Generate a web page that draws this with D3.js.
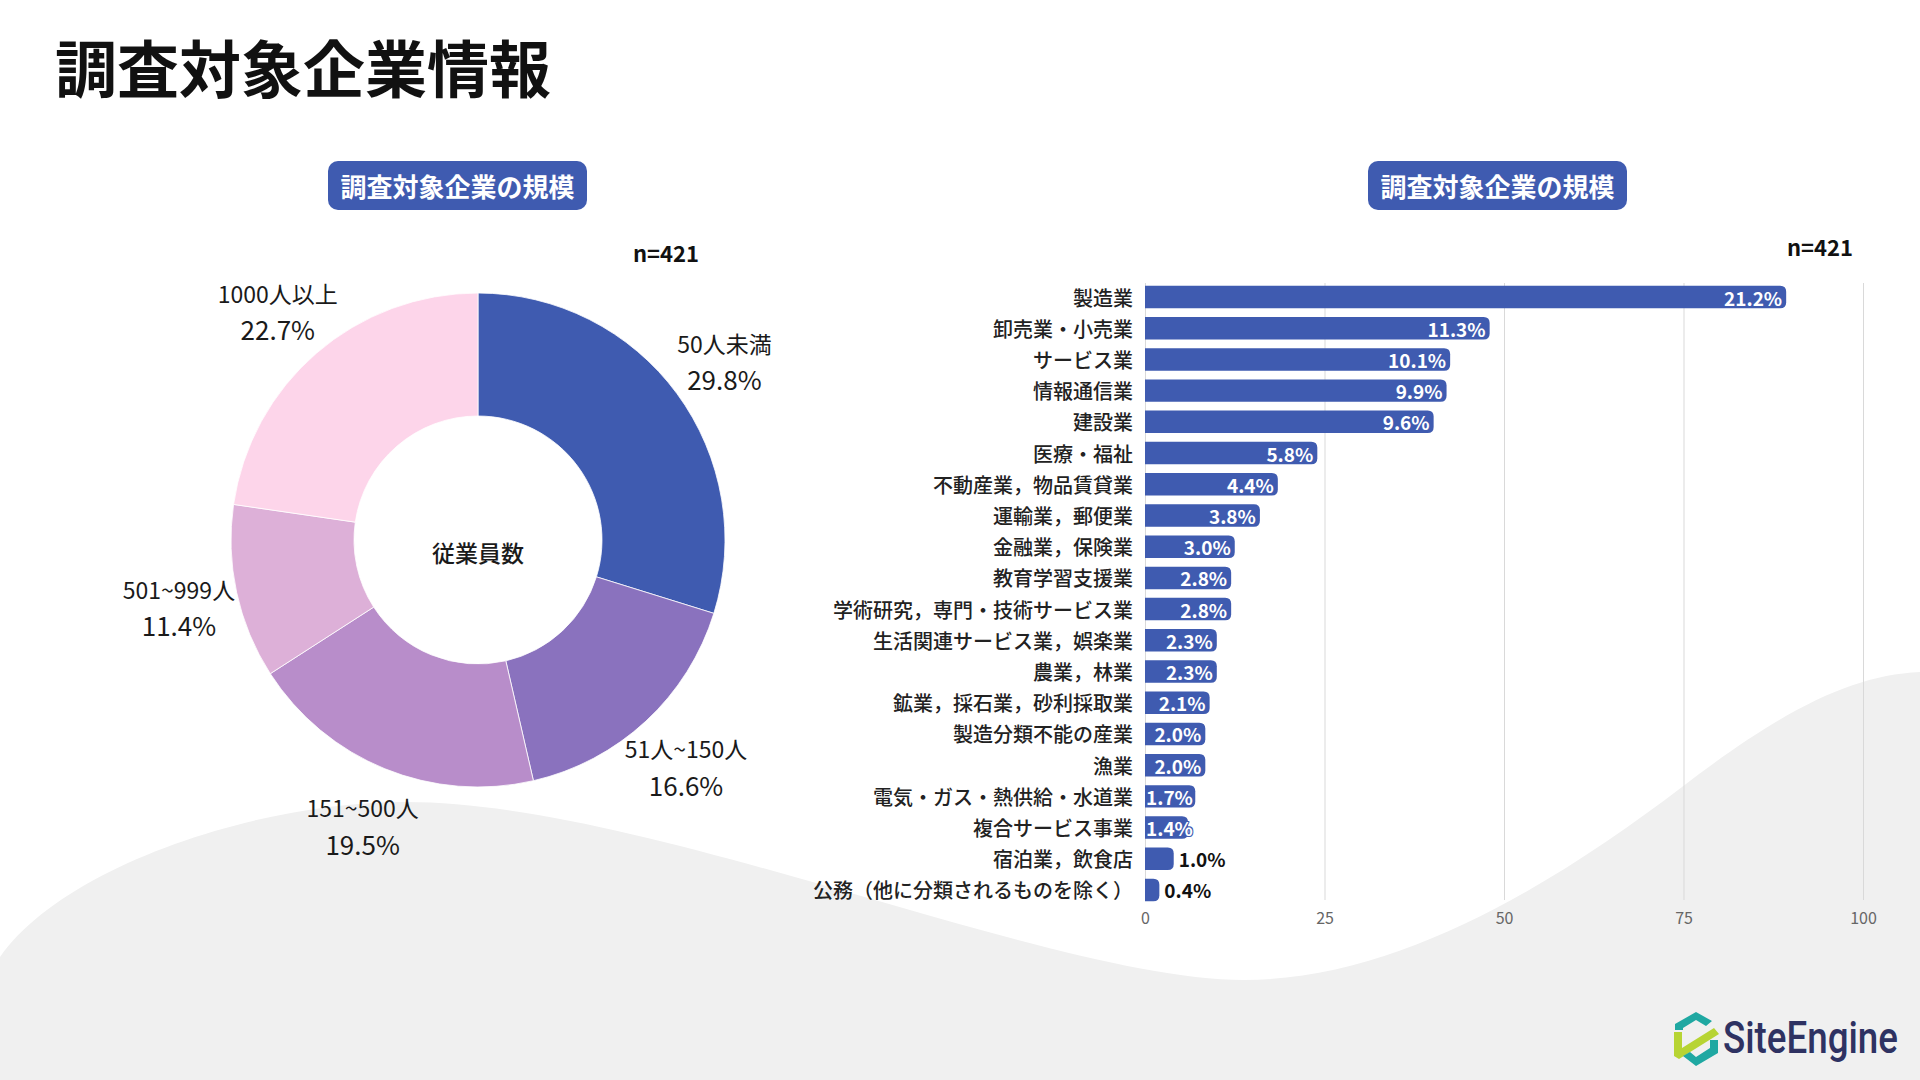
<!DOCTYPE html>
<html><head><meta charset="utf-8">
<script src="https://cdn.jsdelivr.net/npm/d3@7"></script>
<style>
html,body{margin:0;padding:0;background:#fff;}
svg{display:block;font-family:"Noto Sans CJK JP","Noto Sans",sans-serif;}
</style>
</head><body>
<svg id="c" width="1920" height="1080"></svg>
<script>
// ---------- data ----------
const pageTitle = "調査対象企業情報";
const panelTitles = ["調査対象企業の規模", "調査対象企業の規模"];
const sampleLabel = "n=421";

const sizeCategories = ["50人未満", "51人~150人", "151~500人", "501~999人", "1000人以上"];
const sizeShares = [29.8, 16.6, 19.5, 11.4, 22.7];
const sizeColors = ["#3F5BB0", "#8A72BE", "#B88DCA", "#DDB0D8", "#FDD5EA"];
const donutCenterLabel = "従業員数";

const industries = [
  "製造業", "卸売業・小売業", "サービス業", "情報通信業", "建設業", "医療・福祉",
  "不動産業，物品賃貸業", "運輸業，郵便業", "金融業，保険業", "教育学習支援業",
  "学術研究，専門・技術サービス業", "生活関連サービス業，娯楽業", "農業，林業",
  "鉱業，採石業，砂利採取業", "製造分類不能の産業", "漁業", "電気・ガス・熱供給・水道業",
  "複合サービス事業", "宿泊業，飲食店", "公務（他に分類されるものを除く）"
];
const industryCounts = [89.3, 48, 42.5, 42, 40.2, 24, 18.5, 16, 12.5, 12, 12, 10, 10, 9, 8.4, 8.4, 7, 6, 4, 2];
const industryLabels = ["21.2%", "11.3%", "10.1%", "9.9%", "9.6%", "5.8%", "4.4%", "3.8%", "3.0%", "2.8%",
  "2.8%", "2.3%", "2.3%", "2.1%", "2.0%", "2.0%", "1.7%", "1.4%", "1.0%", "0.4%"];
const xTicks = [0, 25, 50, 75, 100];
const logoText = "SiteEngine";

// ---------- drawing ----------
const svg = d3.select("#c");
const BLUE = "#3F5BB0";

// background wave
svg.append("path")
  .attr("d", "M0,957 C60,870 250,802 406,802 C650,802 1050,980 1244,980 C1400,980 1560,880 1682,787 C1780,712 1850,675 1920,672 L1920,1080 L0,1080 Z")
  .attr("fill", "#F0F0F0");

// title
svg.append("text").attr("x", 55).attr("y", 66).attr("dominant-baseline", "central")
  .attr("font-size", 62).attr("font-weight", 700).attr("fill", "#111").text(pageTitle);

// badges
const badgeCenters = [457.5, 1497.5];
panelTitles.forEach((t, i) => {
  const g = svg.append("g").attr("transform", `translate(${badgeCenters[i]},185.5)`);
  g.append("rect").attr("x", -129.5).attr("y", -24.5).attr("width", 259).attr("height", 49)
    .attr("rx", 10).attr("fill", BLUE);
  g.append("text").attr("text-anchor", "middle").attr("dominant-baseline", "central")
    .attr("font-size", 26).attr("font-weight", 700).attr("fill", "#fff").text(t);
});

// n labels
svg.append("text").attr("x", 666).attr("y", 252).attr("text-anchor", "middle").attr("dominant-baseline", "central")
  .attr("font-size", 22).attr("font-weight", 700).attr("fill", "#111").text(sampleLabel);
svg.append("text").attr("x", 1853).attr("y", 245.5).attr("text-anchor", "end").attr("dominant-baseline", "central")
  .attr("font-size", 22).attr("font-weight", 700).attr("fill", "#111").text(sampleLabel);

// ---------- donut ----------
const cx = 478, cy = 540, rOuter = 247, rInner = 124, rLabel = 306;
const pie = d3.pie().sort(null).value(d => d);
const arcs = pie(sizeShares);
const arcGen = d3.arc().innerRadius(rInner).outerRadius(rOuter);
const dg = svg.append("g").attr("transform", `translate(${cx},${cy})`);
dg.selectAll("path.slice").data(arcs).join("path")
  .attr("class", "slice").attr("d", arcGen)
  .attr("fill", (d, i) => sizeColors[i]).attr("stroke", "#fff").attr("stroke-width", 0.8);
dg.append("text").attr("text-anchor", "middle").attr("dominant-baseline", "central").attr("y", 12)
  .attr("font-size", 23).attr("font-weight", 500).attr("fill", "#1a1a1a").text(donutCenterLabel);
const lab = dg.selectAll("g.lab").data(arcs).join("g").attr("class", "lab")
  .attr("transform", d => {
    const a = (d.startAngle + d.endAngle) / 2;
    return `translate(${rLabel * Math.sin(a)},${-rLabel * Math.cos(a) + 2})`;
  });
lab.append("text").attr("text-anchor", "middle").attr("dominant-baseline", "central").attr("y", -18)
  .attr("font-size", 23).attr("fill", "#1a1a1a").text((d, i) => sizeCategories[i]);
lab.append("text").attr("text-anchor", "middle").attr("dominant-baseline", "central").attr("y", 18)
  .attr("font-size", 26).attr("fill", "#1a1a1a").text((d, i) => sizeShares[i].toFixed(1) + "%");

// ---------- bar chart ----------
const x = d3.scaleLinear().domain([0, 100]).range([1145, 1863]);
const y = d3.scaleBand().domain(industries).range([281.4, 905.6]).paddingInner(0.28).paddingOuter(0.14);
const gridTop = 283, gridBottom = 900;

const gx = svg.append("g").attr("transform", `translate(0,${gridBottom})`)
  .call(d3.axisBottom(x).tickValues(xTicks).tickSize(-(gridBottom - gridTop)).tickPadding(13));
gx.select(".domain").remove();
gx.selectAll(".tick line").attr("stroke", "#D9D9D9").attr("stroke-width", 1);
gx.selectAll(".tick text").attr("fill", "#666").attr("font-size", 16)
  .attr("font-family", "'Noto Sans CJK JP','Noto Sans',sans-serif");

const gy = svg.append("g").attr("transform", `translate(${x(0)},0)`)
  .call(d3.axisLeft(y).tickSize(0).tickPadding(12));
gy.select(".domain").remove();
gy.selectAll(".tick text").attr("fill", "#222").attr("font-size", 20).attr("font-weight", 500)
  .attr("font-family", "'Noto Sans CJK JP','Noto Sans',sans-serif").attr("dy", null)
  .attr("dominant-baseline", "central");

function barPath(x0, y0, w, h, r) {
  r = Math.min(r, w, h / 2);
  return `M${x0},${y0} H${x0 + w - r} Q${x0 + w},${y0} ${x0 + w},${y0 + r} V${y0 + h - r} Q${x0 + w},${y0 + h} ${x0 + w - r},${y0 + h} H${x0} Z`;
}
const bars = svg.append("g");
bars.selectAll("path").data(industries).join("path")
  .attr("d", (d, i) => barPath(x(0), y(d), x(industryCounts[i]) - x(0), y.bandwidth(), 6))
  .attr("fill", BLUE);

bars.selectAll("text").data(industries).join("text")
  .attr("y", d => y(d) + y.bandwidth() / 2)
  .attr("dominant-baseline", "central")
  .attr("font-size", 19).attr("font-weight", 700)
  .text((d, i) => industryLabels[i])
  .each(function (d, i) {
    const end = x(industryCounts[i]);
    const w = end - x(0);
    const inside = w >= 38;
    const tw = this.getComputedTextLength();
    const sel = d3.select(this)
      .attr("x", inside ? Math.max(end - 4, x(0) + tw + 1) : end + 5)
      .attr("text-anchor", inside ? "end" : "start")
      .attr("fill", inside ? "#fff" : "#111");
    if (inside) {
      sel.attr("stroke", BLUE).attr("stroke-width", 2.2).attr("paint-order", "stroke")
        .attr("stroke-linejoin", "round");
    }
  });

// ---------- logo ----------
const logo = svg.append("g").attr("transform", "translate(1672,1010)");
logo.append("path").attr("d", "M40,11 L24,2 L3,14 L3,20 L11,20 L11,18 L24,10 L34,16 Z").attr("fill", "#1FA8A2");
logo.append("path").attr("d", "M2,22 L10,22 L10,38 L42,18 L47,24 L7,49 L2,46 Z").attr("fill", "#B7D433");
logo.append("path").attr("d", "M11,46 L24,56 L46,43 L46,30 L38,30 L38,38 L24,47 L18,42 Z").attr("fill", "#1FA8A2");
logo.append("text").attr("x", 51).attr("y", 43).attr("font-family", "Roboto, sans-serif")
  .attr("font-size", 44).attr("font-weight", 500).attr("fill", "#2E3262")
  .attr("textLength", 175).attr("lengthAdjust", "spacingAndGlyphs").text(logoText);
</script>
</body></html>
